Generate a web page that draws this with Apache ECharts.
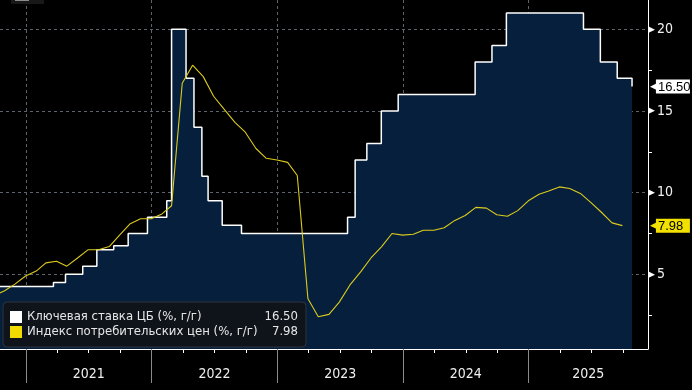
<!DOCTYPE html>
<html><head><meta charset="utf-8">
<script src="https://cdn.jsdelivr.net/npm/echarts@6/dist/echarts.min.js"></script>
<style>html,body{margin:0;padding:0;background:#000}#c{width:692px;height:390px}</style>
</head><body><div id="c"></div>
<script>
// Key rate (CBR), change dates and levels
const rateDates = ['2020-07-27','2021-03-22','2021-04-26','2021-06-15','2021-07-26','2021-09-13','2021-10-25','2021-12-20','2022-02-14','2022-02-28','2022-04-11','2022-05-04','2022-05-27','2022-06-14','2022-07-25','2022-09-19','2023-07-24','2023-08-15','2023-09-18','2023-10-30','2023-12-18','2024-07-29','2024-09-16','2024-10-28','2025-06-09','2025-07-28','2025-09-15','2025-10-28'];
const rateValues = [4.25,4.5,5,5.5,6.5,6.75,7.5,8.5,9.5,20,17,14,11,9.5,8,7.5,8.5,12,13,15,16,18,19,21,20,18,17,16.5];
// CPI y/y, monthly from Sep 2020
const cpiStart = [2020, 9];
const cpiValues = [
  3.7, 4.0, 4.4, 4.9,
  5.2, 5.7, 5.8, 5.5, 6.0, 6.5, 6.5, 6.7, 7.4, 8.1, 8.4, 8.4,
  8.7, 9.2, 16.7, 17.8, 17.1, 15.9, 15.1, 14.3, 13.7, 12.7, 12.1, 12.0,
  11.85, 11.05, 3.5, 2.4, 2.55, 3.3, 4.35, 5.15, 6.0, 6.7, 7.5, 7.4,
  7.45, 7.7, 7.7, 7.85, 8.3, 8.6, 9.1, 9.05, 8.65, 8.55, 8.9, 9.5,
  9.9, 10.1, 10.35, 10.25, 9.95, 9.4, 8.8, 8.15, 7.98
];
const yearLabels = ['2021','2022','2023','2024','2025'];
const yTickLabels = [5, 10, 15, 20];
const seriesNames = ['Ключевая ставка ЦБ (%, г/г)', 'Индекс потребительских цен (%, г/г)'];

const FONT = "'DejaVu Sans Condensed','Liberation Sans',sans-serif";
const NUMFONT = "'Liberation Sans',sans-serif";
function isLeap(y){return (y%4===0&&y%100!==0)||y%400===0;}
function fracYear(y,m,d){
  const start = Date.UTC(y,0,1), t = Date.UTC(y,m-1,d);
  return y + (t-start)/86400000/(isLeap(y)?366:365);
}
function fromStr(s){const p=s.split('-').map(Number);return fracYear(p[0],p[1],p[2]);}
const rateData = rateDates.map((d,i)=>[fromStr(d), rateValues[i]]);
const cpiData = cpiValues.map((v,i)=>{
  let y = cpiStart[0], m = cpiStart[1]+i;
  y += Math.floor((m-1)/12); m = ((m-1)%12)+1;
  const last = new Date(Date.UTC(y,m,0)).getUTCDate();
  return [fracYear(y,m,last), v];
});
const lastRate = rateValues[rateValues.length-1];
const lastCpi = cpiValues[cpiValues.length-1];

const X0 = 2020.794, X1 = 2025.949, Y0 = 0.43, Y1 = 21.79;
const years = yearLabels.map(Number);
const quarterTicks = [];
for (let y=2020; y<=2025; y++) for (const q of [0.25,0.5,0.75]) { const v=y+q; if(v>X0&&v<X1) quarterTicks.push(v); }
const labelPos = years.map(y => y===2025 ? (y+X1)/2 : y+0.5);

function tagAxis(val, bg){
  return {
    type:'value', position:'right', min:Y0, max:Y1,
    axisLine:{show:false}, axisTick:{show:false}, splitLine:{show:false},
    axisLabel:{show:true, customValues:[val], margin:2,
      formatter: v => '{a|◀}{b|'+v.toFixed(2)+'}',
      rich:{a:{color:bg, fontSize:9, fontFamily:'DejaVu Sans', padding:[0,-1,0,0], lineHeight:15},
            b:{color:'#000000', backgroundColor:bg, fontSize:13, fontFamily:NUMFONT,
               width:32, align:'left', padding:[1,0,0,2], lineHeight:15}}}
  };
}

const chart = echarts.init(document.getElementById('c'), null, {renderer:'canvas'});
chart.setOption({
  backgroundColor:'#000',
  animation:false,
  textStyle:{fontFamily:FONT},
  grid:{left:0, right:44, top:0, bottom:41, containLabel:false, outerBoundsMode:'none'},
  graphic:[
    {type:'rect', left:11, top:-6, shape:{width:33,height:10}, style:{fill:'#181818'}, z:100},
    {type:'rect', left:15, top:0, shape:{width:14,height:1}, style:{fill:'#8c8c8c'}, z:101}
  ],
  legend:{
    left:3, top:302, orient:'vertical', padding:[8,8,8,7],
    backgroundColor:'#0f141b', borderColor:'#2c343e', borderWidth:1, borderRadius:4,
    itemWidth:12, itemHeight:12, itemGap:1, icon:'rect',
    data:[
      {name:seriesNames[0], itemStyle:{color:'#ffffff'}},
      {name:seriesNames[1], itemStyle:{color:'#f2dc00'}}
    ],
    formatter: n => '{n|'+n+'}{v|'+(n===seriesNames[0]?lastRate.toFixed(2):lastCpi.toFixed(2))+'}',
    textStyle:{color:'#e6e6e6', fontSize:13, fontFamily:FONT, lineHeight:14,
      rich:{n:{width:235, fontSize:13, color:'#e6e6e6', fontFamily:FONT},
            v:{width:36, align:'right', fontSize:13, color:'#e6e6e6', fontFamily:FONT}}}
  },
  xAxis:[{
    type:'value', min:X0, max:X1,
    axisLine:{show:true, onZero:false, lineStyle:{color:'#ffffff', width:1}},
    axisTick:{show:true, customValues:quarterTicks, length:4, lineStyle:{color:'#ffffff'}},
    axisLabel:{show:true, customValues:labelPos, formatter: v => String(Math.floor(v)),
      color:'#f0f0f0', fontSize:14, fontFamily:FONT, margin:18},
    splitLine:{show:false}
  },{
    type:'value', min:X0, max:X1, position:'bottom',
    axisLine:{show:false},
    axisTick:{show:true, customValues:years, length:34, lineStyle:{color:'#8a8a8a'}},
    axisLabel:{show:false},
    splitLine:{show:true, lineStyle:{color:'#5e646c', type:[3,3], width:1}}
  }],
  yAxis:[{
    type:'value', position:'right', min:Y0, max:Y1,
    axisLine:{show:true, lineStyle:{color:'#ffffff', width:1}},
    axisTick:{show:true, customValues:[2.5,7.5,12.5,17.5], length:4, lineStyle:{color:'#ffffff'}},
    axisLabel:{show:true, customValues:yTickLabels, margin:0,
      formatter: v => '{t|▶}{v|'+v+'}',
      rich:{t:{fontSize:9, color:'#ffffff', fontFamily:'DejaVu Sans'},
            v:{fontSize:14, color:'#f0f0f0', fontFamily:FONT, padding:[0,0,0,2]}}},
    splitLine:{show:false}
  },{
    type:'value', position:'right', min:Y0, max:Y1,
    axisLine:{show:false},
    axisTick:{show:false, customValues:yTickLabels},
    axisLabel:{show:false, customValues:yTickLabels},
    splitLine:{show:true, lineStyle:{color:'#5e646c', type:[3,3], width:1}}
  },
  tagAxis(lastRate, '#ffffff'),
  tagAxis(lastCpi, '#f2e000')
  ],
  series:[{
    name:seriesNames[0], type:'line', step:'end', data:rateData,
    xAxisIndex:0, yAxisIndex:0, showSymbol:false, symbol:'none',
    lineStyle:{color:'#ffffff', width:1.5},
    itemStyle:{color:'#ffffff'},
    areaStyle:{color:'#061f3d', opacity:1, origin:'start'},
    z:2
  },{
    name:seriesNames[1], type:'line', data:cpiData,
    xAxisIndex:0, yAxisIndex:0, showSymbol:false, symbol:'none',
    lineStyle:{color:'#dccb1c', width:1.1},
    itemStyle:{color:'#f2dc00'},
    z:3
  }]
});
</script></body></html>
